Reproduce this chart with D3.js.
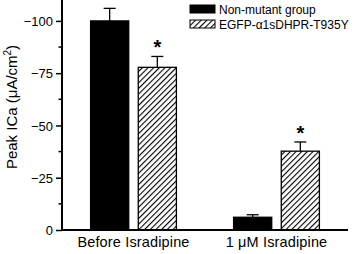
<!DOCTYPE html>
<html><head><meta charset="utf-8">
<script src="https://cdn.jsdelivr.net/npm/d3@7"></script>
<style>body{margin:0;background:#fff}svg{display:block;font-family:"Liberation Sans",Arial,sans-serif}</style>
</head><body>
<svg id="c" width="360" height="254"></svg>
<script>
const categories = ["Before Isradipine", "1 \u03BCM Isradipine"];
const seriesNames = ["Non-mutant group", "EGFP-\u03B11sDHPR-T935Y"];
const nonMutant = [-100, -6.1];
const nonMutantErr = [6, 1.2];
const mutant = [-77.8, -37.7];
const mutantErr = [5.2, 4.4];
const significant = [true, true];
const yTicks = [0, -25, -50, -75, -100];

const svg = d3.select("#c");
const defs = svg.append("defs");
const pat = defs.append("pattern").attr("id","hatch").attr("patternUnits","userSpaceOnUse")
  .attr("width",4).attr("height",4).attr("patternTransform","rotate(45)");
pat.append("rect").attr("width",4).attr("height",4).attr("fill","#fff");
pat.append("line").attr("x1",0).attr("y1",0).attr("x2",0).attr("y2",4).attr("stroke","#000").attr("stroke-width",2.2);

const x0 = 62, x1 = 348, yTop = 0, yBot = 230;
const y = d3.scaleLinear().domain([0, -110]).range([yBot, yTop]);
const xg = d3.scaleBand().domain(categories).range([x0, x1]).paddingInner(0.4).paddingOuter(0.2);
const xs = d3.scaleBand().domain([0,1]).range([0, xg.bandwidth()]).paddingInner(0.2);

const series = [
  {vals: nonMutant, err: nonMutantErr, fill: "#000"},
  {vals: mutant, err: mutantErr, fill: "url(#hatch)"}
];

series.forEach((s, si) => {
  categories.forEach((c, ci) => {
    const bx = xg(c) + xs(si), bw = xs.bandwidth();
    const v = s.vals[ci];
    svg.append("rect").attr("x", bx).attr("y", y(v)).attr("width", bw).attr("height", y(0) - y(v))
      .attr("fill", s.fill).attr("stroke", "#000").attr("stroke-width", 1.3);
    const cx = bx + bw/2, ye = y(v - s.err[ci]);
    svg.append("line").attr("x1", cx).attr("x2", cx).attr("y1", y(v)).attr("y2", ye).attr("stroke","#000").attr("stroke-width",1.3);
    svg.append("line").attr("x1", cx-6).attr("x2", cx+6).attr("y1", ye).attr("y2", ye).attr("stroke","#000").attr("stroke-width",1.3);
    if (si === 1 && significant[ci]) {
      svg.append("text").attr("x", cx).attr("y", ye - 2).attr("text-anchor","middle")
        .attr("font-size", 20).attr("font-weight","bold").text("*");
    }
  });
});

// y axis
const yAxis = d3.axisLeft(y).tickValues(yTicks).tickSize(6).tickPadding(3).tickFormat(d => d === 0 ? "0" : d3.format("d")(d));
const ga = svg.append("g").attr("transform", `translate(${x0},0)`).call(yAxis);
ga.select(".domain").remove();
ga.selectAll(".tick line").attr("stroke-width", 1.5);
ga.selectAll("text").attr("font-size", 13).attr("font-family","Liberation Sans, Arial, sans-serif").attr("dy","0.35em");
const minor = d3.range(-12.5, -110, -25);
svg.selectAll(".minor").data(minor).enter().append("line")
  .attr("x1", x0-3.5).attr("x2", x0).attr("y1", d=>y(d)).attr("y2", d=>y(d)).attr("stroke","#000").attr("stroke-width",1.5);
svg.append("line").attr("x1", x0).attr("x2", x0).attr("y1", yTop).attr("y2", yBot+1).attr("stroke","#000").attr("stroke-width",2);
svg.append("line").attr("x1", x0-1).attr("x2", x1).attr("y1", yBot).attr("y2", yBot).attr("stroke","#000").attr("stroke-width",2);

// x labels
svg.selectAll(".xl").data(categories).enter().append("text")
  .attr("x", d => xg(d) + xg.bandwidth()/2).attr("y", 247).attr("text-anchor","middle")
  .attr("font-size", 14.5).attr("letter-spacing", 0.15).text(d => d);

// y label
const yl = svg.append("text").attr("transform", "translate(17,107) rotate(-90)").attr("text-anchor","middle").attr("font-size",15);
yl.append("tspan").text("Peak ICa (\u03BCA/cm");
yl.append("tspan").attr("font-size",10).attr("dy",-6).text("2");
yl.append("tspan").attr("dy",6).text(")");

// legend
const fills = ["#000", "url(#hatch)"];
seriesNames.forEach((n, i) => {
  const ly = 5 + i*15;
  svg.append("rect").attr("x",190).attr("y",ly).attr("width",25).attr("height",8)
    .attr("fill", fills[i]).attr("stroke","#000").attr("stroke-width",1);
  svg.append("text").attr("x",219).attr("y",ly+8.5).attr("font-size",12).text(n);
});
</script>
</body></html>
